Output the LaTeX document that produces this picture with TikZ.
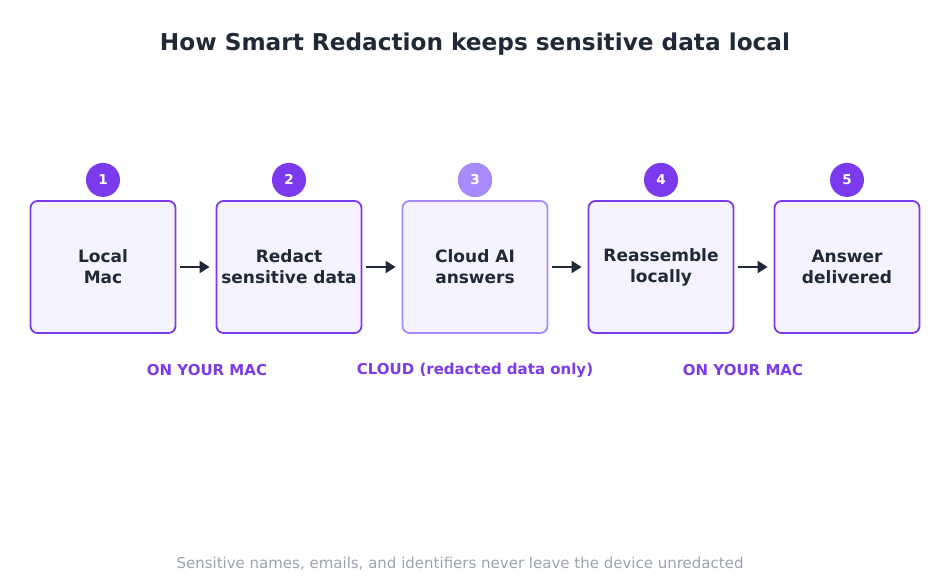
\documentclass[tikz,border=0pt]{standalone}
\usepackage{fontspec}
\setmainfont{DejaVu Sans}
\usetikzlibrary{positioning}
\usetikzlibrary{arrows.meta}
\definecolor{purp}{HTML}{7C3AED}
\definecolor{purpl}{HTML}{A78BFA}
\definecolor{boxfill}{HTML}{F5F3FF}
\definecolor{ink}{HTML}{1F2937}
\definecolor{grey}{HTML}{9CA3AF}
\tikzset{
  stage/.style={draw=purp,line width=1.8pt,fill=boxfill,rounded corners=7pt,minimum width=145pt,minimum height=132pt,align=center,text=ink,font=\bfseries\fontsize{17}{21}\selectfont},
  num/.style={circle,fill=purp,minimum size=34pt,inner sep=0pt,text=white,font=\bfseries\fontsize{13.5}{15}\selectfont},
  zone/.style={text=purp,font=\bfseries\fontsize{15}{18}\selectfont},
  flow/.style={-{Triangle[length=10pt,width=12pt]},line width=2.2pt,draw=ink}
}
\begin{document}
\begin{tikzpicture}[x=1pt,y=-1pt]
	\useasboundingbox (0,0) rectangle (950,583);
	\node[font=\bfseries\fontsize{23.2}{28}\selectfont,text=ink] (title) at (475,44) {How Smart Redaction keeps sensitive data local};
	%% stages
	\node[stage] (s1) at (103,267) {Local\\Mac};
	\node[stage] (s2) at (289,267) {Redact\\sensitive data};
	\node[stage,draw=purpl] (s3) at (475,267) {Cloud AI\\answers};
	\node[stage] (s4) at (661,267) {Reassemble\\locally};
	\node[stage] (s5) at (847,267) {Answer\\delivered};
	% badges
	\foreach \i in {1,...,5} {
		\node[num,above=3pt of s\i] (n\i) {\i};
	}
	\node[num,fill=purpl] at (n3) {3};
	% arrows
	\foreach \a/\b in {1/2,2/3,3/4,4/5} {
		\draw[flow] ([xshift=4pt]s\a.east) -- ([xshift=-6pt]s\b.west);
	}
	\node[zone] (z1) at (207,370) {ON YOUR MAC};
	\node[zone] (z2) at (475,370) {CLOUD (redacted data only)};
	\node[zone] (z3) at (743,370) {ON YOUR MAC};
	\node[text=grey,font=\fontsize{15}{18}\selectfont] (foot) at (460,564) {Sensitive names, emails, and identifiers never leave the device unredacted};
\end{tikzpicture}
\end{document}
